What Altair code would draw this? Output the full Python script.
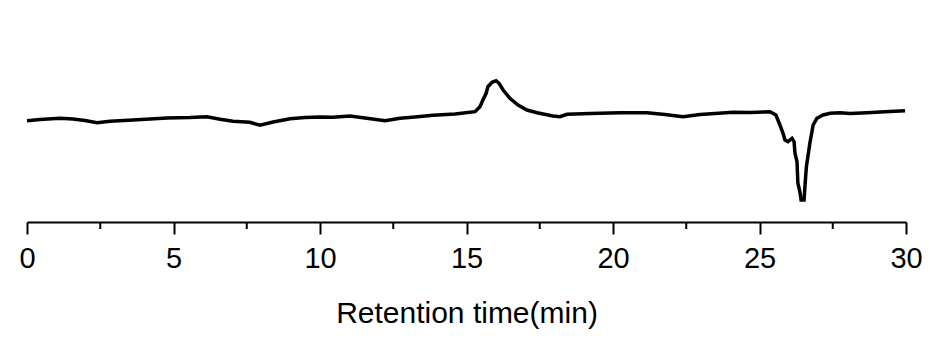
import altair as alt
import pandas as pd

# Retention time (min) and detector signal (arbitrary units)
time_min = [0.00, 0.44, 1.13, 1.57, 1.98, 2.39, 2.83, 3.62, 4.20, 4.78, 5.56, 6.14,
            6.59, 7.03, 7.61, 7.95, 8.40, 8.98, 9.49, 10.00, 10.44, 11.02, 11.60,
            12.22, 12.73, 13.24, 13.86, 14.61, 15.29, 15.46, 15.56, 15.67, 15.73,
            15.87, 16.01, 16.11, 16.25, 16.48, 16.76, 17.06, 17.41, 17.95, 18.19,
            18.43, 19.22, 20.24, 21.16, 21.77, 22.39, 22.97, 23.48, 24.10, 24.68,
            25.36, 25.56, 25.67, 25.80, 25.87, 25.97, 26.11, 26.18, 26.21, 26.28,
            26.31, 26.38, 26.42, 26.52, 26.55, 26.60, 26.66, 26.72, 26.79, 26.83,
            26.96, 27.17, 27.41, 27.75, 28.09, 28.67, 29.28, 29.97]
signal = [101.3, 102.5, 103.7, 103.0, 101.5, 99.3, 100.7, 102.0, 103.0, 104.0, 104.5,
          105.3, 102.7, 100.7, 99.7, 96.7, 100.0, 103.3, 104.5, 105.0, 104.7, 106.0,
          103.7, 101.3, 103.7, 105.0, 106.7, 108.0, 110.3, 115.3, 122.0, 128.7, 135.3,
          139.7, 141.3, 138.7, 132.0, 123.7, 117.0, 112.0, 109.3, 106.0, 105.3, 107.7,
          108.5, 109.3, 109.3, 107.5, 105.3, 107.5, 108.5, 109.7, 109.5,
          110.3, 107.0, 99.0, 89.0, 82.0, 80.3, 83.7, 80.3, 69.0, 60.3,
          39.0, 30.0, 22.0, 22.0, 35.3, 55.3, 67.0, 79.0, 90.3, 97.0,
          103.7, 107.0, 108.7, 109.3, 108.5, 109.3, 110.2, 111.3]

major_ticks = [0, 5, 10, 15, 20, 25, 30]
minor_ticks = [2.5, 7.5, 12.5, 17.5, 22.5, 27.5]

W, H = 879, 214

df = pd.DataFrame({"t": time_min, "s": signal})
df_minor = pd.DataFrame({"t": minor_ticks})

x_scale = alt.Scale(domain=[0, 30], nice=False, zero=False)

line = alt.Chart(df).mark_line(color="black", strokeWidth=3.5, strokeJoin="miter").encode(
    x=alt.X("t:Q", scale=x_scale,
            axis=alt.Axis(values=major_ticks, title="Retention time(min)", grid=False,
                          domainColor="black", domainWidth=2, tickColor="black",
                          tickWidth=2, tickSize=12, labelFont="Liberation Sans",
                          labelFontSize=29, labelColor="black", labelPadding=10,
                          labelFlush=False, titleFont="Liberation Sans", titleFontSize=30,
                          titleFontWeight="normal", titleColor="black", titlePadding=25,
                          format="d")),
    y=alt.Y("s:Q", scale=alt.Scale(domain=[0, 214], nice=False), axis=None),
)

minor = alt.Chart(df_minor).mark_rule(color="black", strokeWidth=2).encode(
    x=alt.X("t:Q", scale=x_scale),
    y=alt.value(H),
    y2=alt.value(H + 7),
)

chart = alt.layer(line, minor).properties(
    width=W, height=H,
    background="white",
    autosize=alt.AutoSizeParams(type="none"),
    padding={"left": 19, "top": 0, "right": 16, "bottom": 125},
).configure_view(stroke=None, strokeWidth=0)

chart.save("out.html", embed_options={"renderer": "svg", "actions": False})
